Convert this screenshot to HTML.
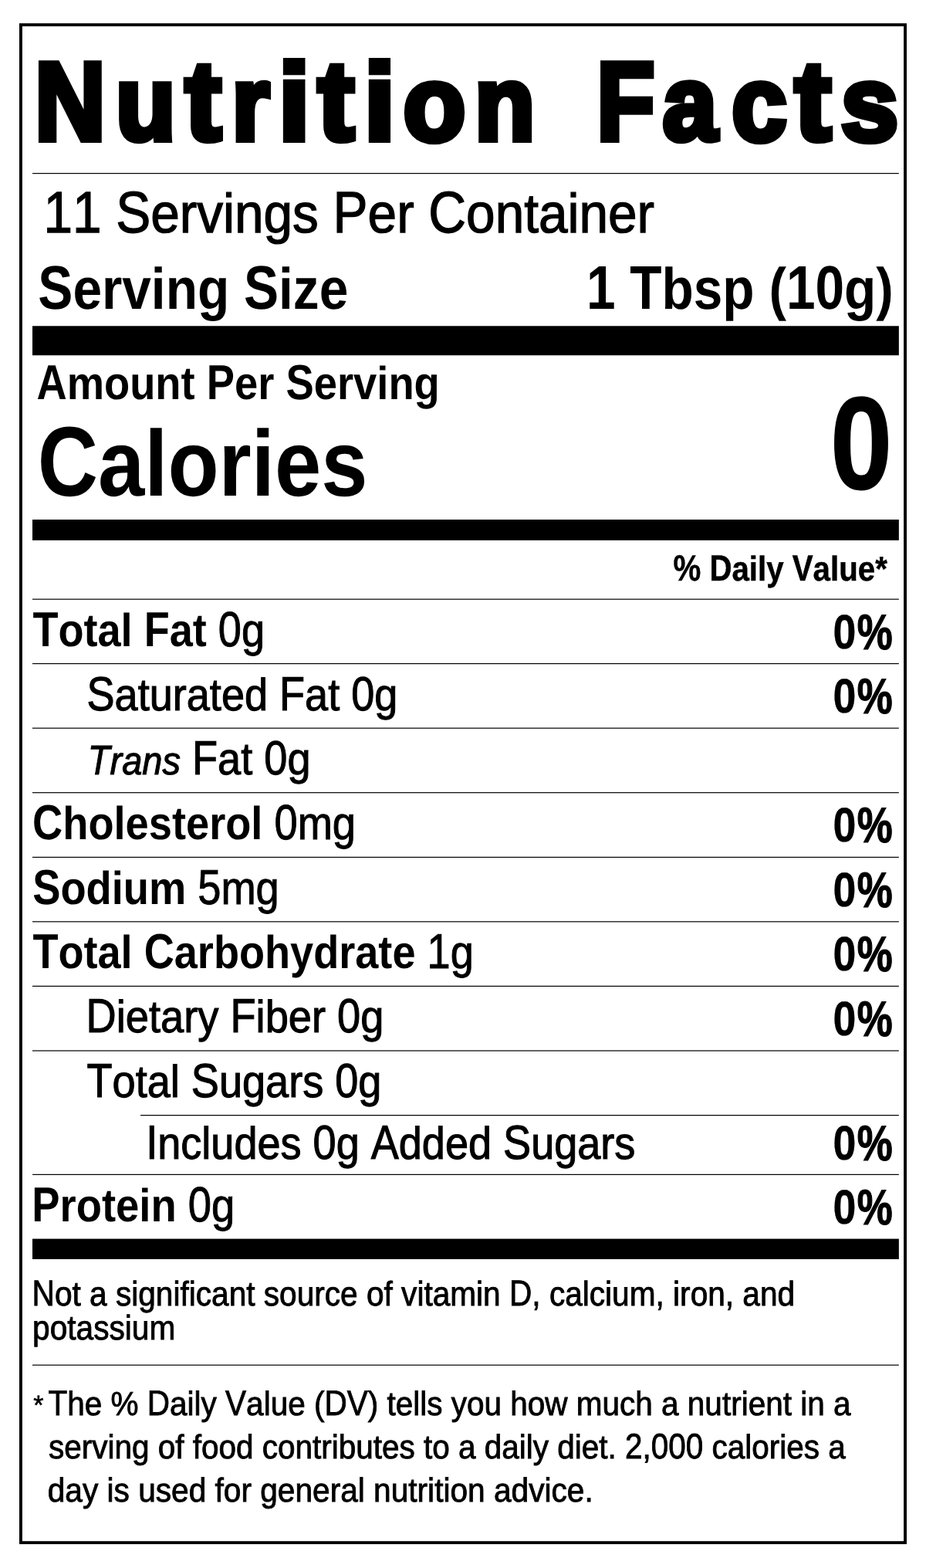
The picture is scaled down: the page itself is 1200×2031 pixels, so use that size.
<!DOCTYPE html>
<html lang="en">
<head>
<meta charset="utf-8">
<title>Nutrition Facts</title>
<style>
html,body{margin:0;padding:0;background:#fff}
body{width:1200px;height:2031px;overflow:hidden}
svg{display:block}
text{font-family:"Liberation Sans", sans-serif;fill:#000;font-kerning:none;font-variant-ligatures:none;text-rendering:geometricPrecision}
rect{fill:#000}
.frame{fill:none;stroke:#000;stroke-width:3.9}
</style>
</head>
<body>
<svg width="1200" height="2031" viewBox="0 0 1200 2031">
<rect class="frame" x="26.95" y="32.15" width="1146.08" height="1966.0"/>
<rect x="42.00" y="224.00" width="1122.85" height="1.20"/>
<rect x="42.00" y="422.25" width="1122.85" height="38.00"/>
<rect x="42.00" y="673.00" width="1122.85" height="26.85"/>
<rect x="42.00" y="775.57" width="1122.85" height="1.20"/>
<rect x="42.00" y="859.00" width="1122.85" height="1.20"/>
<rect x="42.00" y="942.57" width="1122.85" height="1.20"/>
<rect x="42.00" y="1026.10" width="1122.85" height="1.20"/>
<rect x="42.00" y="1109.80" width="1122.85" height="1.20"/>
<rect x="42.00" y="1193.23" width="1122.85" height="1.20"/>
<rect x="42.00" y="1276.80" width="1122.85" height="1.20"/>
<rect x="42.00" y="1360.40" width="1122.85" height="1.20"/>
<rect x="182.00" y="1444.00" width="982.85" height="1.20"/>
<rect x="42.00" y="1520.80" width="1122.85" height="1.20"/>
<rect x="42.00" y="1604.60" width="1122.85" height="26.40"/>
<rect x="42.00" y="1767.57" width="1122.85" height="1.20"/>
<text class="title" xml:space="preserve" aria-label="Nutrition Facts" font-weight="700" stroke="#000" stroke-linejoin="miter"><tspan x="45.05" y="181.00" font-size="143.53" stroke-width="8.00" textLength="91.86" lengthAdjust="spacingAndGlyphs">N</tspan><tspan x="150.09" y="181.43" font-size="135.67" stroke-width="8.00" textLength="77.61" lengthAdjust="spacingAndGlyphs">u</tspan><tspan x="239.68" y="180.97" font-size="146.00" stroke-width="8.00" textLength="47.12" lengthAdjust="spacingAndGlyphs">t</tspan><tspan x="300.62" y="181.00" font-size="136.01" stroke-width="8.00" textLength="48.80" lengthAdjust="spacingAndGlyphs">r</tspan><tspan x="360.82" y="181.00" font-size="140.77" stroke-width="8.00" textLength="40.97" lengthAdjust="spacingAndGlyphs">i</tspan><tspan x="411.69" y="180.97" font-size="146.00" stroke-width="8.00" textLength="47.39" lengthAdjust="spacingAndGlyphs">t</tspan><tspan x="471.65" y="181.00" font-size="140.77" stroke-width="8.00" textLength="40.48" lengthAdjust="spacingAndGlyphs">i</tspan><tspan x="522.42" y="181.66" font-size="137.35" stroke-width="8.00" textLength="80.95" lengthAdjust="spacingAndGlyphs">o</tspan><tspan x="615.02" y="181.00" font-size="136.01" stroke-width="8.00" textLength="78.28" lengthAdjust="spacingAndGlyphs">n</tspan> <tspan x="773.21" y="181.00" font-size="143.53" stroke-width="8.00" textLength="75.28" lengthAdjust="spacingAndGlyphs">F</tspan><tspan x="858.74" y="181.41" font-size="136.90" stroke-width="8.00" textLength="70.48" lengthAdjust="spacingAndGlyphs">a</tspan><tspan x="948.21" y="181.66" font-size="137.35" stroke-width="8.00" textLength="71.41" lengthAdjust="spacingAndGlyphs">c</tspan><tspan x="1029.69" y="180.97" font-size="146.00" stroke-width="8.00" textLength="47.39" lengthAdjust="spacingAndGlyphs">t</tspan><tspan x="1089.68" y="181.66" font-size="137.23" stroke-width="8.00" textLength="74.46" lengthAdjust="spacingAndGlyphs">s</tspan></text>
<g class="serving">
<text xml:space="preserve" aria-label="11 Servings Per Container" transform="translate(56.39 301.10) scale(0.9430 1)" font-size="71.58" stroke="#000" stroke-width="1.30"><tspan font-size="75.73" textLength="79.61" lengthAdjust="spacingAndGlyphs">11</tspan> <tspan font-size="75.73" textLength="47.74" lengthAdjust="spacingAndGlyphs">S</tspan>ervings <tspan font-size="75.73" textLength="47.74" lengthAdjust="spacingAndGlyphs">P</tspan>er <tspan font-size="75.73" textLength="51.69" lengthAdjust="spacingAndGlyphs">C</tspan>ontainer</text>
<text xml:space="preserve" aria-label="Serving Size" transform="translate(49.30 400.30) scale(0.8963 1)" font-size="75.42"><tspan font-weight="700"><tspan font-size="79.80" textLength="50.31" lengthAdjust="spacingAndGlyphs">S</tspan>erving <tspan font-size="79.80" textLength="50.31" lengthAdjust="spacingAndGlyphs">S</tspan>ize</tspan></text>
<text xml:space="preserve" aria-label="1 Tbsp (10g)" transform="translate(759.89 400.30) scale(0.8959 1)" font-size="75.42"><tspan font-weight="700"><tspan font-size="79.80" textLength="41.95" lengthAdjust="spacingAndGlyphs">1</tspan> <tspan font-size="79.80" textLength="46.07" lengthAdjust="spacingAndGlyphs">T</tspan>bsp (<tspan font-size="79.80" textLength="83.89" lengthAdjust="spacingAndGlyphs">10</tspan>g)</tspan></text>
</g>
<g class="calories">
<text xml:space="preserve" aria-label="Amount Per Serving" transform="translate(47.40 517.00) scale(0.9043 1)" font-size="60.10"><tspan font-weight="700"><tspan font-size="63.59" textLength="43.41" lengthAdjust="spacingAndGlyphs">A</tspan>mount <tspan font-size="63.59" textLength="40.09" lengthAdjust="spacingAndGlyphs">P</tspan>er <tspan font-size="63.59" textLength="40.09" lengthAdjust="spacingAndGlyphs">S</tspan>erving</tspan></text>
<text xml:space="preserve" aria-label="Calories" transform="translate(48.81 642.00) scale(0.8943 1)" font-size="121.17"><tspan font-weight="700"><tspan font-size="128.20" textLength="87.50" lengthAdjust="spacingAndGlyphs">C</tspan>alories</tspan></text>
<text xml:space="preserve" aria-label="0" font-weight="700" stroke="#000"><tspan x="1075.93" y="632.79" font-size="170.48" textLength="80.14" lengthAdjust="spacingAndGlyphs" stroke-width="1.50">0</tspan></text>
</g>
<g class="nutrients">
<text xml:space="preserve" aria-label="% Daily Value*" transform="translate(872.42 751.55) scale(0.8987 1)" font-size="44.79" stroke="#000" stroke-width="0.50"><tspan font-weight="700"><tspan font-size="47.38" textLength="39.82" lengthAdjust="spacingAndGlyphs">%</tspan> <tspan font-size="47.38" textLength="32.34" lengthAdjust="spacingAndGlyphs">D</tspan>aily <tspan font-size="47.38" textLength="29.87" lengthAdjust="spacingAndGlyphs">V</tspan>alue*</tspan></text>
<text xml:space="preserve" aria-label="Total Fat 0g" transform="translate(42.39 836.80) scale(0.9002 1)" font-size="60.10"><tspan font-weight="700"><tspan font-size="63.59" textLength="36.71" lengthAdjust="spacingAndGlyphs">T</tspan>otal <tspan font-size="63.59" textLength="36.71" lengthAdjust="spacingAndGlyphs">F</tspan>at</tspan><tspan stroke="#000" stroke-width="1.00"> <tspan font-size="63.59" textLength="33.43" lengthAdjust="spacingAndGlyphs">0</tspan>g</tspan></text>
<text xml:space="preserve" aria-label="0%" font-weight="700" stroke="#000"><tspan x="1079.60" y="839.94" font-size="62.64" textLength="29.89" lengthAdjust="spacingAndGlyphs" stroke-width="0.40">0</tspan><tspan x="1110.84" y="840.79" font-size="64.67" textLength="45.94" lengthAdjust="spacingAndGlyphs" stroke-width="1.20">%</tspan></text>
<text xml:space="preserve" aria-label="Saturated Fat 0g" transform="translate(112.55 919.95) scale(0.9231 1)" font-size="58.59" stroke="#000" stroke-width="1.10"><tspan font-size="61.99" textLength="39.08" lengthAdjust="spacingAndGlyphs">S</tspan>aturated <tspan font-size="61.99" textLength="35.79" lengthAdjust="spacingAndGlyphs">F</tspan>at <tspan font-size="61.99" textLength="32.59" lengthAdjust="spacingAndGlyphs">0</tspan>g</text>
<text xml:space="preserve" aria-label="0%" font-weight="700" stroke="#000"><tspan x="1079.60" y="923.44" font-size="62.64" textLength="29.89" lengthAdjust="spacingAndGlyphs" stroke-width="0.40">0</tspan><tspan x="1110.84" y="924.29" font-size="64.67" textLength="45.94" lengthAdjust="spacingAndGlyphs" stroke-width="1.20">%</tspan></text>
<text xml:space="preserve" aria-label="Trans Fat 0g" transform="translate(113.79 1003.20) scale(0.9242 1)" font-size="58.59" stroke="#000" stroke-width="1.10"><tspan font-style="italic" font-size="50.86"><tspan font-size="53.81" textLength="31.07" lengthAdjust="spacingAndGlyphs">T</tspan>rans</tspan> <tspan font-size="61.99" textLength="35.79" lengthAdjust="spacingAndGlyphs">F</tspan>at <tspan font-size="61.99" textLength="32.59" lengthAdjust="spacingAndGlyphs">0</tspan>g</text>
<text xml:space="preserve" aria-label="Cholesterol 0mg" transform="translate(42.08 1087.20) scale(0.9025 1)" font-size="60.10"><tspan font-weight="700"><tspan font-size="63.59" textLength="43.41" lengthAdjust="spacingAndGlyphs">C</tspan>holesterol</tspan><tspan stroke="#000" stroke-width="1.00"> <tspan font-size="63.59" textLength="33.43" lengthAdjust="spacingAndGlyphs">0</tspan>mg</tspan></text>
<text xml:space="preserve" aria-label="0%" font-weight="700" stroke="#000"><tspan x="1079.60" y="1090.44" font-size="62.64" textLength="29.89" lengthAdjust="spacingAndGlyphs" stroke-width="0.40">0</tspan><tspan x="1110.84" y="1091.29" font-size="64.67" textLength="45.94" lengthAdjust="spacingAndGlyphs" stroke-width="1.20">%</tspan></text>
<text xml:space="preserve" aria-label="Sodium 5mg" transform="translate(42.19 1170.90) scale(0.9029 1)" font-size="60.10"><tspan font-weight="700"><tspan font-size="63.59" textLength="40.09" lengthAdjust="spacingAndGlyphs">S</tspan>odium</tspan><tspan stroke="#000" stroke-width="1.00"> <tspan font-size="63.59" textLength="33.43" lengthAdjust="spacingAndGlyphs">5</tspan>mg</tspan></text>
<text xml:space="preserve" aria-label="0%" font-weight="700" stroke="#000"><tspan x="1079.60" y="1173.94" font-size="62.64" textLength="29.89" lengthAdjust="spacingAndGlyphs" stroke-width="0.40">0</tspan><tspan x="1110.84" y="1174.79" font-size="64.67" textLength="45.94" lengthAdjust="spacingAndGlyphs" stroke-width="1.20">%</tspan></text>
<text xml:space="preserve" aria-label="Total Carbohydrate 1g" transform="translate(42.39 1254.30) scale(0.9004 1)" font-size="60.10"><tspan font-weight="700"><tspan font-size="63.59" textLength="36.71" lengthAdjust="spacingAndGlyphs">T</tspan>otal <tspan font-size="63.59" textLength="43.41" lengthAdjust="spacingAndGlyphs">C</tspan>arbohydrate</tspan><tspan stroke="#000" stroke-width="1.00"> <tspan font-size="63.59" textLength="33.43" lengthAdjust="spacingAndGlyphs">1</tspan>g</tspan></text>
<text xml:space="preserve" aria-label="0%" font-weight="700" stroke="#000"><tspan x="1079.60" y="1257.44" font-size="62.64" textLength="29.89" lengthAdjust="spacingAndGlyphs" stroke-width="0.40">0</tspan><tspan x="1110.84" y="1258.29" font-size="64.67" textLength="45.94" lengthAdjust="spacingAndGlyphs" stroke-width="1.20">%</tspan></text>
<text xml:space="preserve" aria-label="Dietary Fiber 0g" transform="translate(111.56 1337.45) scale(0.9259 1)" font-size="58.59" stroke="#000" stroke-width="1.10"><tspan font-size="61.99" textLength="42.31" lengthAdjust="spacingAndGlyphs">D</tspan>ietary <tspan font-size="61.99" textLength="35.79" lengthAdjust="spacingAndGlyphs">F</tspan>iber <tspan font-size="61.99" textLength="32.59" lengthAdjust="spacingAndGlyphs">0</tspan>g</text>
<text xml:space="preserve" aria-label="0%" font-weight="700" stroke="#000"><tspan x="1079.60" y="1340.94" font-size="62.64" textLength="29.89" lengthAdjust="spacingAndGlyphs" stroke-width="0.40">0</tspan><tspan x="1110.84" y="1341.79" font-size="64.67" textLength="45.94" lengthAdjust="spacingAndGlyphs" stroke-width="1.20">%</tspan></text>
<text xml:space="preserve" aria-label="Total Sugars 0g" transform="translate(112.54 1420.70) scale(0.9234 1)" font-size="58.59" stroke="#000" stroke-width="1.10"><tspan font-size="61.99" textLength="35.79" lengthAdjust="spacingAndGlyphs">T</tspan>otal <tspan font-size="61.99" textLength="39.08" lengthAdjust="spacingAndGlyphs">S</tspan>ugars <tspan font-size="61.99" textLength="32.59" lengthAdjust="spacingAndGlyphs">0</tspan>g</text>
<text xml:space="preserve" aria-label="Includes 0g Added Sugars" transform="translate(189.27 1501.45) scale(0.9227 1)" font-size="58.59" stroke="#000" stroke-width="1.10"><tspan font-size="61.99" textLength="16.28" lengthAdjust="spacingAndGlyphs">I</tspan>ncludes <tspan font-size="61.99" textLength="32.59" lengthAdjust="spacingAndGlyphs">0</tspan>g <tspan font-size="61.99" textLength="39.08" lengthAdjust="spacingAndGlyphs">A</tspan>dded <tspan font-size="61.99" textLength="39.08" lengthAdjust="spacingAndGlyphs">S</tspan>ugars</text>
<text xml:space="preserve" aria-label="0%" font-weight="700" stroke="#000"><tspan x="1079.60" y="1501.69" font-size="62.64" textLength="29.89" lengthAdjust="spacingAndGlyphs" stroke-width="0.40">0</tspan><tspan x="1110.84" y="1502.54" font-size="64.67" textLength="45.94" lengthAdjust="spacingAndGlyphs" stroke-width="1.20">%</tspan></text>
<text xml:space="preserve" aria-label="Protein 0g" transform="translate(41.36 1581.90) scale(0.9048 1)" font-size="60.10"><tspan font-weight="700"><tspan font-size="63.59" textLength="40.09" lengthAdjust="spacingAndGlyphs">P</tspan>rotein</tspan><tspan stroke="#000" stroke-width="1.00"> <tspan font-size="63.59" textLength="33.43" lengthAdjust="spacingAndGlyphs">0</tspan>g</tspan></text>
<text xml:space="preserve" aria-label="0%" font-weight="700" stroke="#000"><tspan x="1079.60" y="1584.94" font-size="62.64" textLength="29.89" lengthAdjust="spacingAndGlyphs" stroke-width="0.40">0</tspan><tspan x="1110.84" y="1585.79" font-size="64.67" textLength="45.94" lengthAdjust="spacingAndGlyphs" stroke-width="1.20">%</tspan></text>
</g>
<g class="notes">
<text xml:space="preserve" aria-label="Not a significant source of vitamin D, calcium, iron, and" transform="translate(41.58 1690.80) scale(0.9138 1)" font-size="44.44" stroke="#000" stroke-width="0.90"><tspan font-size="47.02" textLength="32.10" lengthAdjust="spacingAndGlyphs">N</tspan>ot a significant source of vitamin <tspan font-size="47.02" textLength="32.10" lengthAdjust="spacingAndGlyphs">D</tspan>, calcium, iron, and</text>
<text xml:space="preserve" aria-label="potassium" transform="translate(42.04 1735.30) scale(0.9145 1)" font-size="44.44" stroke="#000" stroke-width="0.90">potassium</text>
<text xml:space="preserve" aria-label="*" stroke="#000"><tspan x="43.24" y="1831.60" font-size="35.32" textLength="13.20" lengthAdjust="spacingAndGlyphs" stroke-width="0.60">*</tspan></text>
<text xml:space="preserve" aria-label="The % Daily Value (DV) tells you how much a nutrient in a" transform="translate(62.51 1833.30) scale(0.9330 1)" font-size="43.41" stroke="#000" stroke-width="0.90"><tspan font-size="45.93" textLength="26.52" lengthAdjust="spacingAndGlyphs">T</tspan>he % <tspan font-size="45.93" textLength="31.35" lengthAdjust="spacingAndGlyphs">D</tspan>aily <tspan font-size="45.93" textLength="28.96" lengthAdjust="spacingAndGlyphs">V</tspan>alue (<tspan font-size="45.93" textLength="60.31" lengthAdjust="spacingAndGlyphs">DV</tspan>) tells you how much a nutrient in a</text>
<text xml:space="preserve" aria-label="serving of food contributes to a daily diet. 2,000 calories a" transform="translate(63.04 1889.05) scale(0.9324 1)" font-size="43.41" stroke="#000" stroke-width="0.90">serving of food contributes to a daily diet. <tspan font-size="45.93" textLength="24.14" lengthAdjust="spacingAndGlyphs">2</tspan>,<tspan font-size="45.93" textLength="72.43" lengthAdjust="spacingAndGlyphs">000</tspan> calories a</text>
<text xml:space="preserve" aria-label="day is used for general nutrition advice." transform="translate(61.71 1944.55) scale(0.9361 1)" font-size="43.41" stroke="#000" stroke-width="0.90">day is used for general nutrition advice.</text>
</g>
</svg>
</body>
</html>
